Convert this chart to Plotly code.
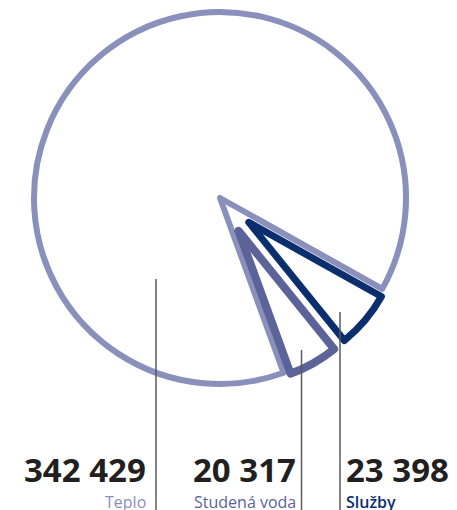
import plotly.graph_objects as go

# ---- data ----
categories = ["Teplo", "Služby", "Studená voda"]
values = [342429, 23398, 20317]
colors = ["#8990bb", "#0b2e6f", "#5b6399"]

# the page body has an 8px margin; figure coordinates are screen minus this
OFF = 8
W, H = 457 - OFF, 510 - OFF
CX, CY = 220, 198        # pie centre (screen px)
R_BIG = 186              # radius of the large slice
R_SMALL = 152            # radius of the small slices
PULL = 0.248
ROT = 160

def px_x(v):
    return (v - OFF) / W

def px_y(v):
    return 1 - (v - OFF) / H

def clamp(v):
    return max(0.0, min(1.0, v))

def domain(r, maxpull):
    half = r * (1 + maxpull)
    return dict(x=[clamp(px_x(CX - half)), clamp(px_x(CX + half))],
                y=[clamp(px_y(CY + half)), clamp(px_y(CY - half))])

fig = go.Figure()

# big slice
fig.add_trace(go.Pie(
    labels=categories, values=values, sort=False, direction="clockwise",
    rotation=ROT, textinfo="none", hoverinfo="label+value",
    domain=domain(R_BIG, 0),
    marker=dict(colors=["white", "rgba(0,0,0,0)", "rgba(0,0,0,0)"],
                line=dict(color=[colors[0], "rgba(0,0,0,0)", "rgba(0,0,0,0)"],
                          width=[6, 0, 0])),
    showlegend=False,
))

# small, pulled slices
fig.add_trace(go.Pie(
    labels=categories, values=values, sort=False, direction="clockwise",
    rotation=ROT, textinfo="none", hoverinfo="label+value",
    domain=domain(R_SMALL, PULL),
    pull=[0, PULL, PULL],
    marker=dict(colors=["rgba(0,0,0,0)", "white", "white"],
                line=dict(color=["rgba(0,0,0,0)", colors[1], colors[2]],
                          width=[0, 7, 8])),
    showlegend=False,
))

# leader lines and labels
label_specs = {
    "Teplo": dict(line_x=156, line_top=279, text_x=147, anchor="right"),
    "Studená voda": dict(line_x=301.5, line_top=350, text_x=297, anchor="right"),
    "Služby": dict(line_x=340, line_top=312, text_x=345, anchor="left"),
}

for cat, val, col in zip(categories, values, colors):
    s = label_specs[cat]
    fig.add_shape(type="line", xref="paper", yref="paper",
                  x0=px_x(s["line_x"]), x1=px_x(s["line_x"]),
                  y0=px_y(s["line_top"]), y1=0,
                  line=dict(color="#5a5a5a", width=1.5))
    num = f"{val:,}".replace(",", " ")
    fig.add_annotation(text=f"<b>{num}</b>", xref="paper", yref="paper",
                       x=px_x(s["text_x"]), y=px_y(493), xanchor=s["anchor"],
                       yanchor="bottom", showarrow=False,
                       font=dict(family="Open Sans", size=33, color="#231f20"),
                       borderpad=0)
    fig.add_annotation(text=cat, xref="paper", yref="paper",
                       x=px_x(s["text_x"]), y=px_y(490), xanchor=s["anchor"],
                       yanchor="top", showarrow=False,
                       font=dict(family="Open Sans", size=16, color=col,
                                 weight=600 if cat == "Služby" else 400),
                       borderpad=0)

fig.update_layout(width=W, height=H, margin=dict(l=0, r=0, t=0, b=0),
                  paper_bgcolor="white", plot_bgcolor="white")

fig.write_html("out.html")
